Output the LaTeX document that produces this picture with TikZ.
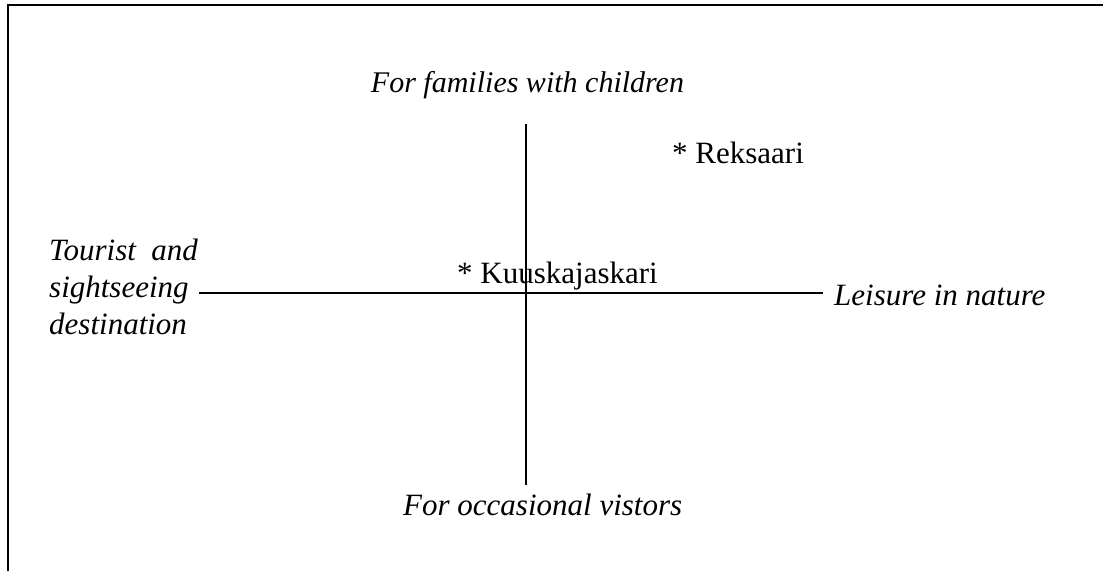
\documentclass[tikz,border=0pt]{standalone}
\usepackage{fontspec}
\setmainfont{Liberation Serif}
\begin{document}
\begin{tikzpicture}[x=1pt,y=-1pt,
  lbl/.style={inner sep=0pt,anchor=base west,font=\fontsize{31}{35}\selectfont},
  axis/.style={line width=1.3pt},
  frame/.style={line width=2pt}]
\useasboundingbox (0,0) rectangle (1103,571);
% open frame: top and left edges only
\draw[frame] (7.5,571) -- (7.5,5) -- (1103,5);
% axis ends
\coordinate (xl) at (199,293);
\coordinate (xr) at (823,293);
\coordinate (yt) at (526,124);
\coordinate (yb) at (526,485);
\draw[axis] (xl) -- (xr);
\draw[axis] (yt) -- (yb);
% pole labels
\node[lbl,anchor=base,font=\fontsize{30}{35}\selectfont] (top) at (527.5,92) {\itshape For families with children};
\node[lbl] (bot) at (403,515) {\itshape For occasional vistors};
\node[lbl] (right) at (834,305) {\itshape Leisure in nature};
\node[lbl] (l1) at (49,260) {\itshape Tourist\ \ and};
\node[lbl] (l2) at (49,297) {\itshape sightseeing};
\node[lbl] (l3) at (49,334) {\itshape destination};
% placed sites
\node[lbl] (rek) at (672,163) {* Reksaari};
\node[lbl] (kuu) at (457,283) {* Kuuskajaskari};
\end{tikzpicture}
\end{document}
